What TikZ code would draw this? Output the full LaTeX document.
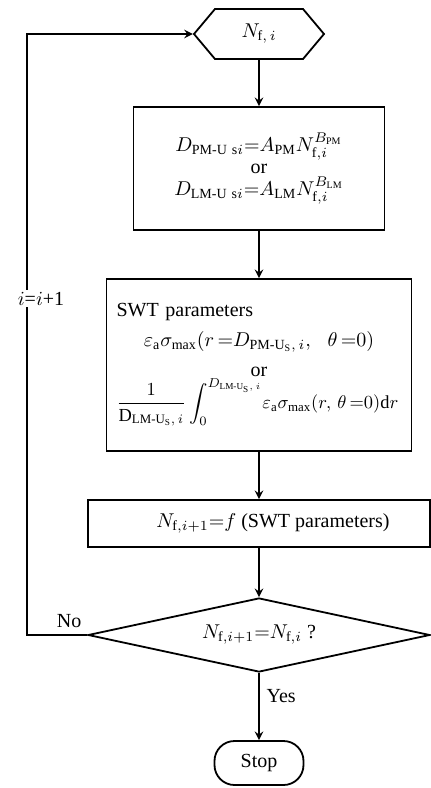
\documentclass[tikz,border=0pt]{standalone}
\usepackage{amsmath}
\usepackage{fontspec}
\setmainfont{Liberation Serif}
\usetikzlibrary{shapes.geometric, shapes.symbols, arrows}
\tikzstyle{startstop} = [rectangle, rounded corners=10pt, minimum width=44.5pt, minimum height=22pt, text centered, draw=black]
\tikzstyle{inout} = [signal, signal to=west and east, signal pointer angle=100, minimum width=65pt, minimum height=25pt, inner sep=0pt, text centered, draw=black]
\tikzstyle{process} = [rectangle, inner sep=0pt, text centered, draw=black]
\tikzstyle{decision} = [diamond, aspect=4.6, minimum width=171pt, minimum height=37pt, inner sep=0pt, text centered, draw=black]
\tikzstyle{arrow} = [->,>=stealth]

\begin{document}
\begin{tikzpicture}[node distance=2cm, line width=0.9pt]
\useasboundingbox (0,0) rectangle (215pt,-394pt);

\node (nfi) [inout] at (129.5pt,-17pt) {$N_{\mathrm{f},\,i}$};
\node (dpm) [process, below of=nfi, node distance=67.25pt, minimum width=125.5pt, minimum height=61.5pt, align=center] {$D_{\mathrm{PM\text{-}U\ s}i}{=}A_{\mathrm{PM}}N_{\mathrm{f},i}^{B_{\mathrm{PM}}}$\\[-1pt] or\\[-1pt] $D_{\mathrm{LM\text{-}U\ s}i}{=}A_{\mathrm{LM}}N_{\mathrm{f},i}^{B_{\mathrm{LM}}}$};
\node (swt) [process, below of=dpm, node distance=98.25pt, minimum width=152.5pt, minimum height=86pt, text width=142.5pt, align=center] {\makebox[\linewidth][l]{SWT parameters}\\[3pt] $\varepsilon_{\mathrm{a}}\sigma_{\max}(r\,{=}D_{\mathrm{PM\text{-}U_S},\,i},\ \ \theta\,{=}0)$\\[3pt] or\\ \makebox[\linewidth][l]{\scalebox{0.92}{$\displaystyle\frac{1}{\mathrm{D}_{\mathrm{LM\text{-}U_S},\,i}}\int_0^{D_{\mathrm{LM\text{-}U_S},\,i}}\!\varepsilon_{\mathrm{a}}\sigma_{\max}(r,\,\theta\,{=}0)\mathrm{d}r$}}};
\node (nnew) [process, below of=swt, node distance=79.25pt, minimum width=171pt, minimum height=23.5pt] {\hspace*{14pt}$N_{\mathrm{f},i+1}{=}f$ (SWT parameters)};
\node (conv) [decision, below of=nnew, node distance=55.75pt] {$N_{\mathrm{f},i+1}{=}N_{\mathrm{f},i}$ ?};
\node (stop) [startstop, below of=conv, node distance=64pt] {Stop};
\coordinate (back) at (13.5pt,-317.5pt);

\draw [arrow] (nfi) -- (dpm);
\draw [arrow] (dpm) -- (swt);
\draw [arrow] (swt) -- (nnew);
\draw [arrow] (nnew) -- (conv);
\draw [arrow] (conv) -- node[right, pos=0.35] {Yes} (stop);
\draw [arrow] (conv.west) -- node[above, pos=0.3] {No} (back) |- node[pos=0.28, xshift=7pt, fill=white, inner sep=1pt] {$i$=$i$+1} (nfi.west);

\end{tikzpicture}
\end{document}
